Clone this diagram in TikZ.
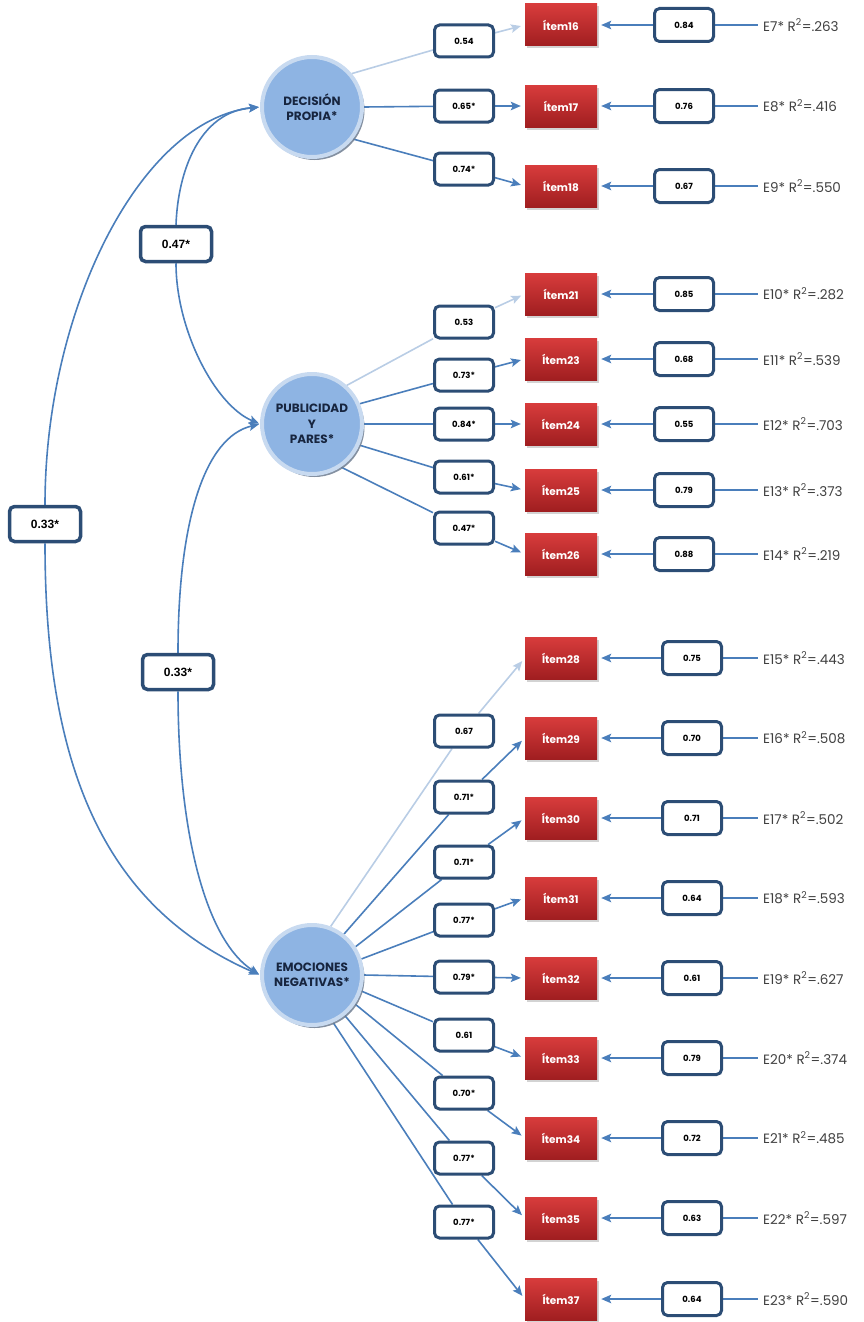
\documentclass[tikz,border=0pt]{standalone}
\usepackage{fontspec}
\setmainfont{Poppins}
\newfontfamily\arialf{Liberation Sans}
\usetikzlibrary{arrows.meta,shadows}
\pgfdeclarelayer{bg}\pgfsetlayers{bg,main}
\definecolor{lineblue}{RGB}{74,126,187}
\definecolor{lightblue}{RGB}{185,205,229}
\definecolor{boxblue}{RGB}{44,77,117}
\definecolor{itemtop}{RGB}{216,60,60}
\definecolor{itembot}{RGB}{160,30,32}
\definecolor{latfill}{RGB}{142,180,227}
\definecolor{latring}{RGB}{200,218,240}
\definecolor{lattext}{RGB}{23,37,63}
\definecolor{etextc}{RGB}{64,64,64}
\definecolor{latshadow}{RGB}{110,125,145}
\begin{document}
\begin{tikzpicture}[x=1pt,y=-1pt,
 latent/.style={circle,minimum size=100pt,inner sep=0pt,fill=latfill,draw=latring,line width=4pt,
   drop shadow={shadow xshift=2.5pt,shadow yshift=-3pt,fill=latshadow,opacity=.85},
   font=\fontsize{12}{15.5}\selectfont\bfseries,text=lattext,align=center},
 itembox/.style={rectangle,minimum width=72pt,minimum height=42pt,top color=itemtop,bottom color=itembot,
   drop shadow={shadow xshift=1.5pt,shadow yshift=-2.5pt,fill=black!50,opacity=.35},
   text=white,font=\fontsize{10.5}{12}\selectfont\bfseries},
 lbox/.style={rectangle,rounded corners=5pt,draw=boxblue,line width=3pt,fill=white,
   minimum width=59pt,minimum height=32pt,inner sep=1pt,font=\fontsize{8.5}{10}\selectfont\bfseries,text=black},
 ebox/.style={lbox,minimum height=33pt},
 cbox/.style={lbox,minimum width=71pt,minimum height=35pt,line width=3.5pt,
   font=\arialf\fontsize{12}{14}\selectfont\bfseries},
 etxt/.style={anchor=west,inner sep=5pt,font=\fontsize{13.5}{15}\selectfont,text=etextc},
 lo/.style={draw=lineblue,line width=1.6pt,-{Stealth[length=10pt,width=8.5pt,inset=2pt]},shorten >=4pt},
 ll/.style={lo,draw=lightblue},
 plain/.style={draw=lineblue,line width=1.6pt},
 corr/.style={draw=lineblue,line width=1.6pt,-{Stealth[length=10pt,width=8.5pt,inset=2pt]},shorten >=1pt}
]
\useasboundingbox (0,0) rectangle (863,1322);

% latent factors
\node[latent] (dec) at (312,107) {DECISIÓN\\PROPIA*};
\node[latent] (pub) at (312,424) {PUBLICIDAD\\Y\\PARES*};
\node[latent] (emo) at (312,975) {EMOCIONES\\NEGATIVAS*};

% items, error boxes and error labels
\foreach \n/\y/\ex/\ev/\et in {
 16/25/684/0.84/E7* R\textsuperscript{2}=.263,
 17/106/684/0.76/E8* R\textsuperscript{2}=.416,
 18/186/684/0.67/E9* R\textsuperscript{2}=.550,
 21/294/684/0.85/E10* R\textsuperscript{2}=.282,
 23/359/684/0.68/E11* R\textsuperscript{2}=.539,
 24/424/684/0.55/E12* R\textsuperscript{2}=.703,
 25/490/684/0.79/E13* R\textsuperscript{2}=.373,
 26/554/684/0.88/E14* R\textsuperscript{2}=.219,
 28/658/692/0.75/E15* R\textsuperscript{2}=.443,
 29/738/692/0.70/E16* R\textsuperscript{2}=.508,
 30/818/692/0.71/E17* R\textsuperscript{2}=.502,
 31/898/692/0.64/E18* R\textsuperscript{2}=.593,
 32/978/692/0.61/E19* R\textsuperscript{2}=.627,
 33/1058/692/0.79/E20* R\textsuperscript{2}=.374,
 34/1138/692/0.72/E21* R\textsuperscript{2}=.485,
 35/1218/692/0.63/E22* R\textsuperscript{2}=.597,
 37/1299/692/0.64/E23* R\textsuperscript{2}=.590}{
  \node[itembox] (i\n) at (561,\y) {Ítem\n};
  \node[ebox] (e\n) at (\ex,\y) {\ev};
  \node[etxt] (t\n) at (758,\y) {\et};
  \begin{pgfonlayer}{bg}
  \draw[lo] (e\n) -- (i\n);
  \draw[plain] (e\n) -- (t\n);
  \end{pgfonlayer}
}

% loading labels
\node[lbox] (l16) at (464,41) {0.54};
\node[lbox] (l17) at (464,106) {0.65*};
\node[lbox] (l18) at (464,169) {0.74*};
\node[lbox] (l21) at (464,322) {0.53};
\node[lbox] (l23) at (464,375) {0.73*};
\node[lbox] (l24) at (464,424) {0.84*};
\node[lbox] (l25) at (464,477) {0.61*};
\node[lbox] (l26) at (464,528) {0.47*};
\node[lbox] (l28) at (464,731) {0.67};
\node[lbox] (l29) at (464,797) {0.71*};
\node[lbox] (l30) at (464,862) {0.71*};
\node[lbox] (l31) at (464,920) {0.77*};
\node[lbox] (l32) at (464,977) {0.79*};
\node[lbox] (l33) at (464,1035) {0.61};
\node[lbox] (l34) at (464,1093) {0.70*};
\node[lbox] (l35) at (464,1158) {0.77*};
\node[lbox] (l37) at (464,1222) {0.77*};

% correlation labels
\node[cbox] (c47) at (176,244) {0.47*};
\node[cbox] (c33l) at (45,524) {0.33*};
\node[cbox] (c33m) at (178,672) {0.33*};

\begin{pgfonlayer}{bg}
\draw[ll] (dec.40) -- (l16) -- (i16.west);
\draw[lo] (dec.east) -- (l17) -- (i17.west);
\draw[lo] (dec.-38) -- (l18) -- (i18.west);
\draw[ll] (pub.48) -- (l21) -- (i21.west);
\draw[lo] (pub.23) -- (l23) -- (i23.west);
\draw[lo] (pub.east) -- (l24) -- (i24.west);
\draw[lo] (pub.-24) -- (l25) -- (i25.west);
\draw[lo] (pub.-56) -- (l26) -- (i26.west);
\draw[ll] (emo.69) -- (l28) -- (i28.west);
\draw[lo] (emo.52) -- (l29) -- (i29.west);
\draw[lo] (emo.33) -- (l30) -- (i30.west);
\draw[lo] (emo.18) -- (l31) -- (i31.west);
\draw[lo] (emo.east) -- (l32) -- (i32.west);
\draw[lo] (emo.-18) -- (l33) -- (i33.west);
\draw[lo] (emo.-34) -- (l34) -- (i34.west);
\draw[lo] (emo.-51) -- (l35) -- (i35.west);
\draw[lo] (emo.-66) -- (l37) -- (i37.west);

\draw[corr] (c47.north) .. controls (178,170) and (200,112) .. (dec.west);
\draw[corr] (c47.south) .. controls (176,330) and (215,405) .. (pub.west);
\draw[corr] (c33m.north) .. controls (178,520) and (205,437) .. (pub.west);
\draw[corr] (c33m.south) .. controls (178,830) and (205,940) .. (emo.west);
\draw[corr] (c33l.north) .. controls (45,310) and (140,120) .. (dec.west);
\draw[corr] (c33l.south) .. controls (45,760) and (100,905) .. (emo.west);
\end{pgfonlayer}
\end{tikzpicture}
\end{document}
